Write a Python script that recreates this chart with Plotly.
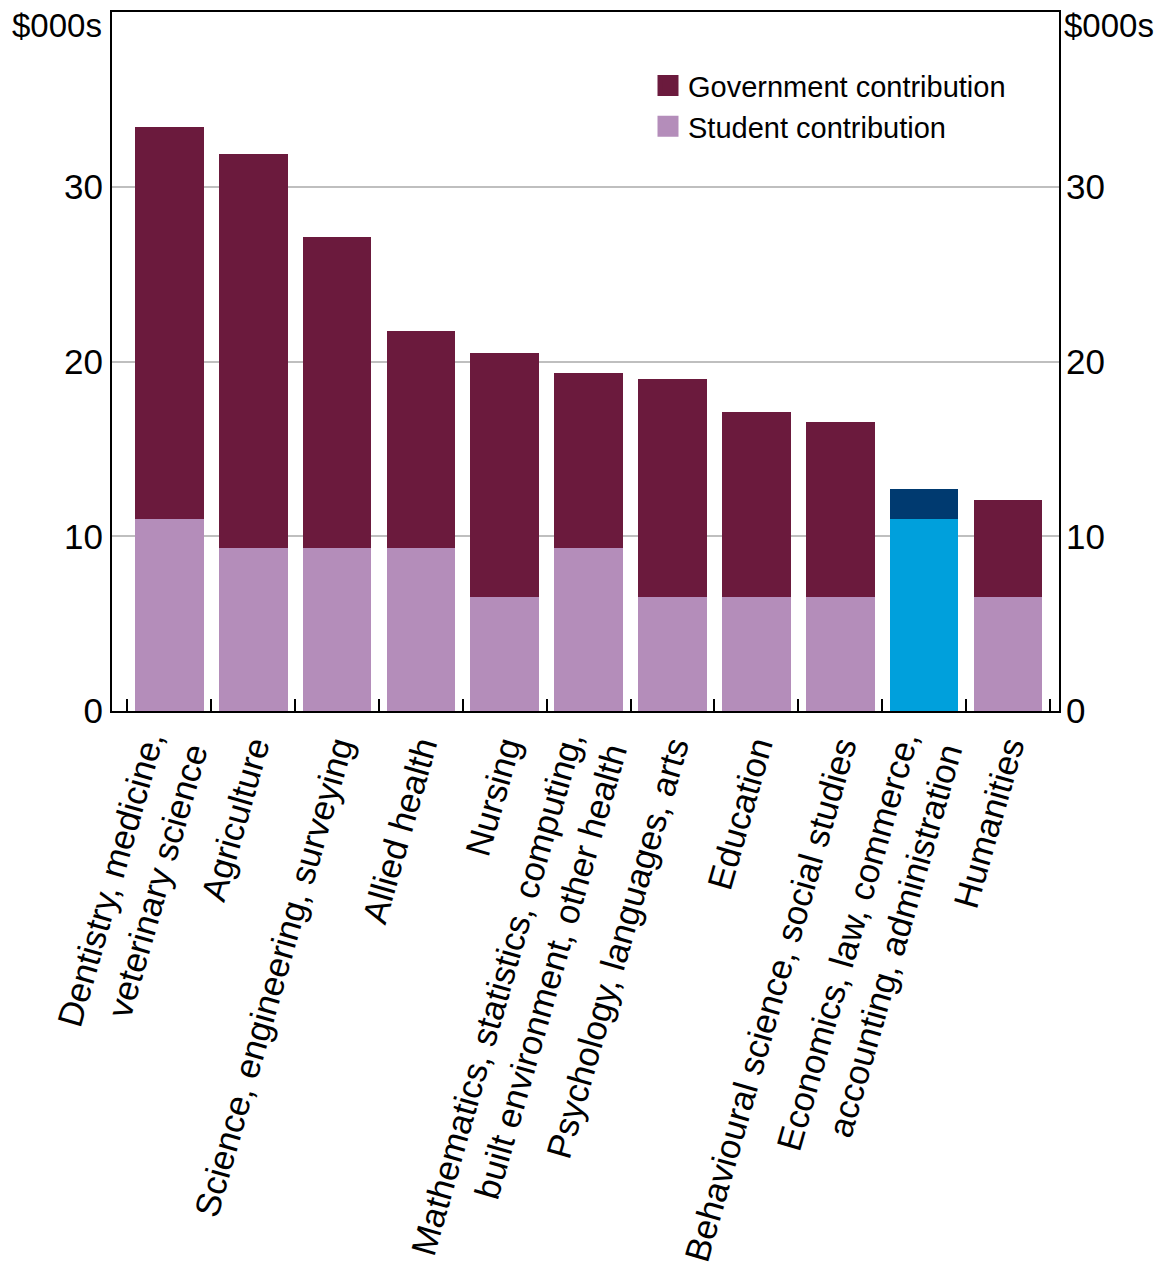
import plotly.graph_objects as go

categories = [
    "Dentistry, medicine,<br>veterinary science",
    "Agriculture",
    "Science, engineering, surveying",
    "Allied health",
    "Nursing",
    "Mathematics, statistics, computing,<br>built environment, other health",
    "Psychology, languages, arts",
    "Education",
    "Behavioural science, social studies",
    "Economics, law, commerce,<br>accounting, administration",
    "Humanities",
]
student = [11.0, 9.3, 9.3, 9.3, 6.55, 9.3, 6.55, 6.55, 6.55, 11.0, 6.55]
government = [22.4, 22.55, 17.8, 12.45, 13.95, 10.05, 12.45, 10.55, 10.0, 1.7, 5.55]
highlight = "Economics, law, commerce,<br>accounting, administration"
series_names = ["Government contribution", "Student contribution"]

GOV = "#6B1A3D"
STU = "#B48DBA"
GOV_HI = "#003A70"
STU_HI = "#00A0DC"

stu_colors = [STU_HI if c == highlight else STU for c in categories]
gov_colors = [GOV_HI if c == highlight else GOV for c in categories]
totals = [s + g for s, g in zip(student, government)]

FONT = "Liberation Sans, Arial, sans-serif"

fig = go.Figure()
fig.add_trace(go.Bar(x=categories, y=student, name=series_names[1], showlegend=False,
                     marker=dict(color=stu_colors, line=dict(width=0))))
fig.add_trace(go.Bar(x=categories, y=government, name=series_names[0], showlegend=False,
                     marker=dict(color=gov_colors, line=dict(width=0))))
# legend entries (larger square swatches)
for nm, col in zip(series_names, [GOV, STU]):
    fig.add_trace(go.Scatter(x=[categories[0]], y=[None], name=nm, mode="markers",
                             marker=dict(symbol="square", size=16, color=col,
                                         line=dict(color=col, width=5)),
                             hoverinfo="skip"))
# right-hand axis
fig.add_trace(go.Scatter(x=categories, y=totals, yaxis="y2", mode="markers",
                         marker=dict(opacity=0), showlegend=False, hoverinfo="skip"))

fig.update_layout(
    width=1154, height=1257,
    margin=dict(l=104, r=103, t=4, b=554, autoexpand=False),
    barmode="stack", bargap=0.18,
    plot_bgcolor="white", paper_bgcolor="white",
    font=dict(family=FONT, size=35, color="black"),
    showlegend=True,
    legend=dict(x=0.566, y=0.931, xanchor="left", yanchor="top",
                font=dict(size=29), bgcolor="rgba(0,0,0,0)",
                itemsizing="trace", traceorder="normal", tracegroupgap=0),
    xaxis=dict(type="category", tickangle=-74, tickfont=dict(size=35), automargin=False,
               ticks="inside", tickson="boundaries", ticklen=12, tickcolor="black",
               tickwidth=2, showline=True, linecolor="black", linewidth=2, mirror=True,
               showgrid=False),
    yaxis=dict(range=[0, 40], tickvals=[0, 10, 20, 30], showgrid=True, automargin=False,
               gridcolor="#BFBFBF", gridwidth=2, zeroline=False, showline=True,
               linecolor="black", linewidth=2, mirror=True, ticks="",
               tickfont=dict(size=35)),
    yaxis2=dict(range=[0, 40], tickvals=[0, 10, 20, 30], overlaying="y", side="right",
                showgrid=False, zeroline=False, showline=False, ticks="", automargin=False,
                ticklabelstandoff=6, tickfont=dict(size=35)),
    annotations=[
        dict(text="$000s", xref="paper", yref="y", x=0, y=39.2, xanchor="right",
             yanchor="middle", xshift=-8, showarrow=False, font=dict(size=33)),
        dict(text="$000s", xref="paper", yref="y", x=1, y=39.2, xanchor="left",
             yanchor="middle", xshift=3, showarrow=False, font=dict(size=33)),
    ],
)

fig.write_html("out.html")
